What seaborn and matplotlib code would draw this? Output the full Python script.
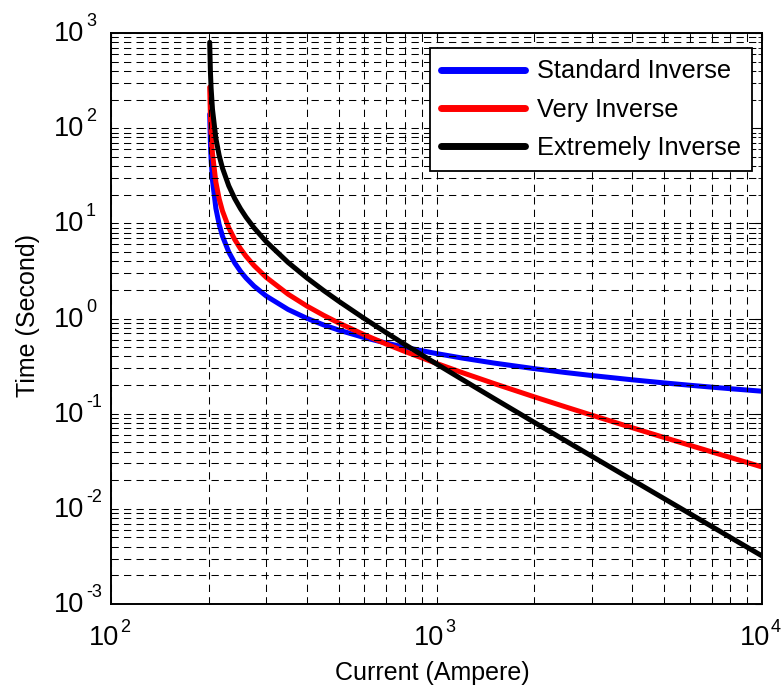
import numpy as np
import pandas as pd
import matplotlib
matplotlib.use("Agg")
import matplotlib.pyplot as plt
from matplotlib.ticker import LogLocator, NullFormatter
from matplotlib.transforms import offset_copy
import seaborn as sns

# Relay operating times (s) versus fault current (A), pickup 200 A, TMS 0.1
current = [201, 202, 203, 205, 210, 215, 220, 230, 240, 250, 260, 275, 300,
           350, 400, 450, 500, 600, 700, 800, 1000, 1200, 1500, 2000, 2500,
           3000, 4000, 5000, 6000, 7000, 8000, 10000]
standard_inverse = [140.3, 70.35, 47.0, 28.35, 14.34, 9.675, 7.34, 5.00, 3.83,
                    3.13, 2.661, 2.19, 1.72, 1.244, 1.003, 0.856, 0.757, 0.630,
                    0.552, 0.498, 0.428, 0.384, 0.3405, 0.297, 0.2702, 0.2516,
                    0.2268, 0.2106, 0.1989, 0.190, 0.1829, 0.1721]
very_inverse = [270.0, 135.0, 90.0, 54.0, 27.0, 18.0, 13.5, 9.0, 6.75, 5.4,
                4.5, 3.6, 2.7, 1.8, 1.35, 1.08, 0.9, 0.675, 0.54, 0.45, 0.3375,
                0.27, 0.2077, 0.15, 0.1174, 0.0964, 0.07105, 0.05625, 0.04655,
                0.0397, 0.03462, 0.02755]
extremely_inverse = [798.0, 398.0, 264.7, 158.0, 78.05, 51.4, 38.1, 24.8,
                     18.18, 14.22, 11.59, 8.98, 6.4, 3.88, 2.667, 1.969, 1.524,
                     1.0, 0.711, 0.533, 0.333, 0.2286, 0.1448, 0.0808, 0.05153,
                     0.0357, 0.02005, 0.01282, 0.0089, 0.006536, 0.005003,
                     0.003201]
curve_names = ["Standard Inverse", "Very Inverse", "Extremely Inverse"]
curve_colors = ["#0000ff", "#ff0000", "#000000"]

x_decades = [2, 3, 4]
y_decades = [-3, -2, -1, 0, 1, 2, 3]

df = pd.concat([
    pd.DataFrame({"Current": current, "Time": vals, "Curve": name})
    for name, vals in zip(curve_names,
                          [standard_inverse, very_inverse, extremely_inverse])
], ignore_index=True)

sns.set_style("white")
plt.rcParams["font.family"] = ["Liberation Sans", "DejaVu Sans"]
plt.rcParams["text.color"] = "black"
plt.rcParams["axes.labelcolor"] = "black"

fig = plt.figure(figsize=(7.84, 6.89), dpi=100)
ax = fig.add_axes([111 / 784, 85 / 689, 651 / 784, 571 / 689])

sns.lineplot(data=df, x="Current", y="Time", hue="Curve",
             hue_order=curve_names, palette=curve_colors,
             estimator=None, linewidth=3.6, ax=ax)

ax.set_xscale("log")
ax.set_yscale("log")
ax.set_xlim(100, 10000)
ax.set_ylim(1e-3, 1e3)

for axis in (ax.xaxis, ax.yaxis):
    axis.set_major_locator(LogLocator(base=10, numticks=20))
    axis.set_minor_locator(LogLocator(base=10, subs=np.arange(2, 10), numticks=20))
    axis.set_minor_formatter(NullFormatter())
ax.set_xticks([10.0 ** d for d in x_decades])
ax.set_yticks([10.0 ** d for d in y_decades])
ax.set_xticklabels([])
ax.set_yticklabels([])

ax.grid(True, which="both", color="black", linestyle=(0, (7, 5)),
        linewidth=0.75)
ax.set_axisbelow(False)

for side in ax.spines.values():
    side.set_color("black")
    side.set_linewidth(1.4)

ax.tick_params(axis="both", which="both", direction="in", top=True,
               right=True, colors="black")
ax.tick_params(axis="both", which="major", length=5, width=0.8)
ax.tick_params(axis="both", which="minor", length=3, width=0.6)

# Decade labels: large "10" with a raised, smaller exponent
base_size, exp_size = 19.5, 13
xtr = ax.get_xaxis_transform()
ytr = ax.get_yaxis_transform()
for d in x_decades:
    ax.text(10.0 ** d, 0, "10", fontsize=base_size, ha="right", va="baseline",
            transform=offset_copy(xtr, fig=fig, x=8, y=-41, units="dots"),
            clip_on=False)
    ax.text(10.0 ** d, 0, str(d), fontsize=exp_size, ha="left", va="baseline",
            transform=offset_copy(xtr, fig=fig, x=9, y=-28, units="dots"),
            clip_on=False)
for d in y_decades:
    ax.text(0, 10.0 ** d, "10", fontsize=base_size, ha="right", va="baseline",
            transform=offset_copy(ytr, fig=fig, x=-27, y=-8, units="dots"),
            clip_on=False)
    ax.text(0, 10.0 ** d, str(d), fontsize=exp_size, ha="left", va="baseline",
            transform=offset_copy(ytr, fig=fig, x=-25, y=7, units="dots"),
            clip_on=False)

ax.set_xlabel("Current (Ampere)", fontsize=18)
ax.xaxis.label.set_va("baseline")
ax.xaxis.set_label_coords((432.5 - 111) / 651, (604 - 680) / 571)
ax.set_ylabel("Time (Second)", fontsize=18)
ax.yaxis.label.set_va("center")
ax.yaxis.set_label_coords((28 - 111) / 651, (604 - 315) / 571)

leg = ax.legend(loc="upper right", bbox_to_anchor=(1 - 10 / 651, 1 - 15 / 571),
                borderaxespad=0, fontsize=18.3, frameon=True, fancybox=False,
                framealpha=1, edgecolor="black", handlelength=3.3,
                handletextpad=0.45, labelspacing=0.56, borderpad=0.45)
leg.get_frame().set_linewidth(1.3)
for line in leg.get_lines():
    line.set_linewidth(5.0)

fig.savefig("out.png", dpi=100, facecolor="white")
